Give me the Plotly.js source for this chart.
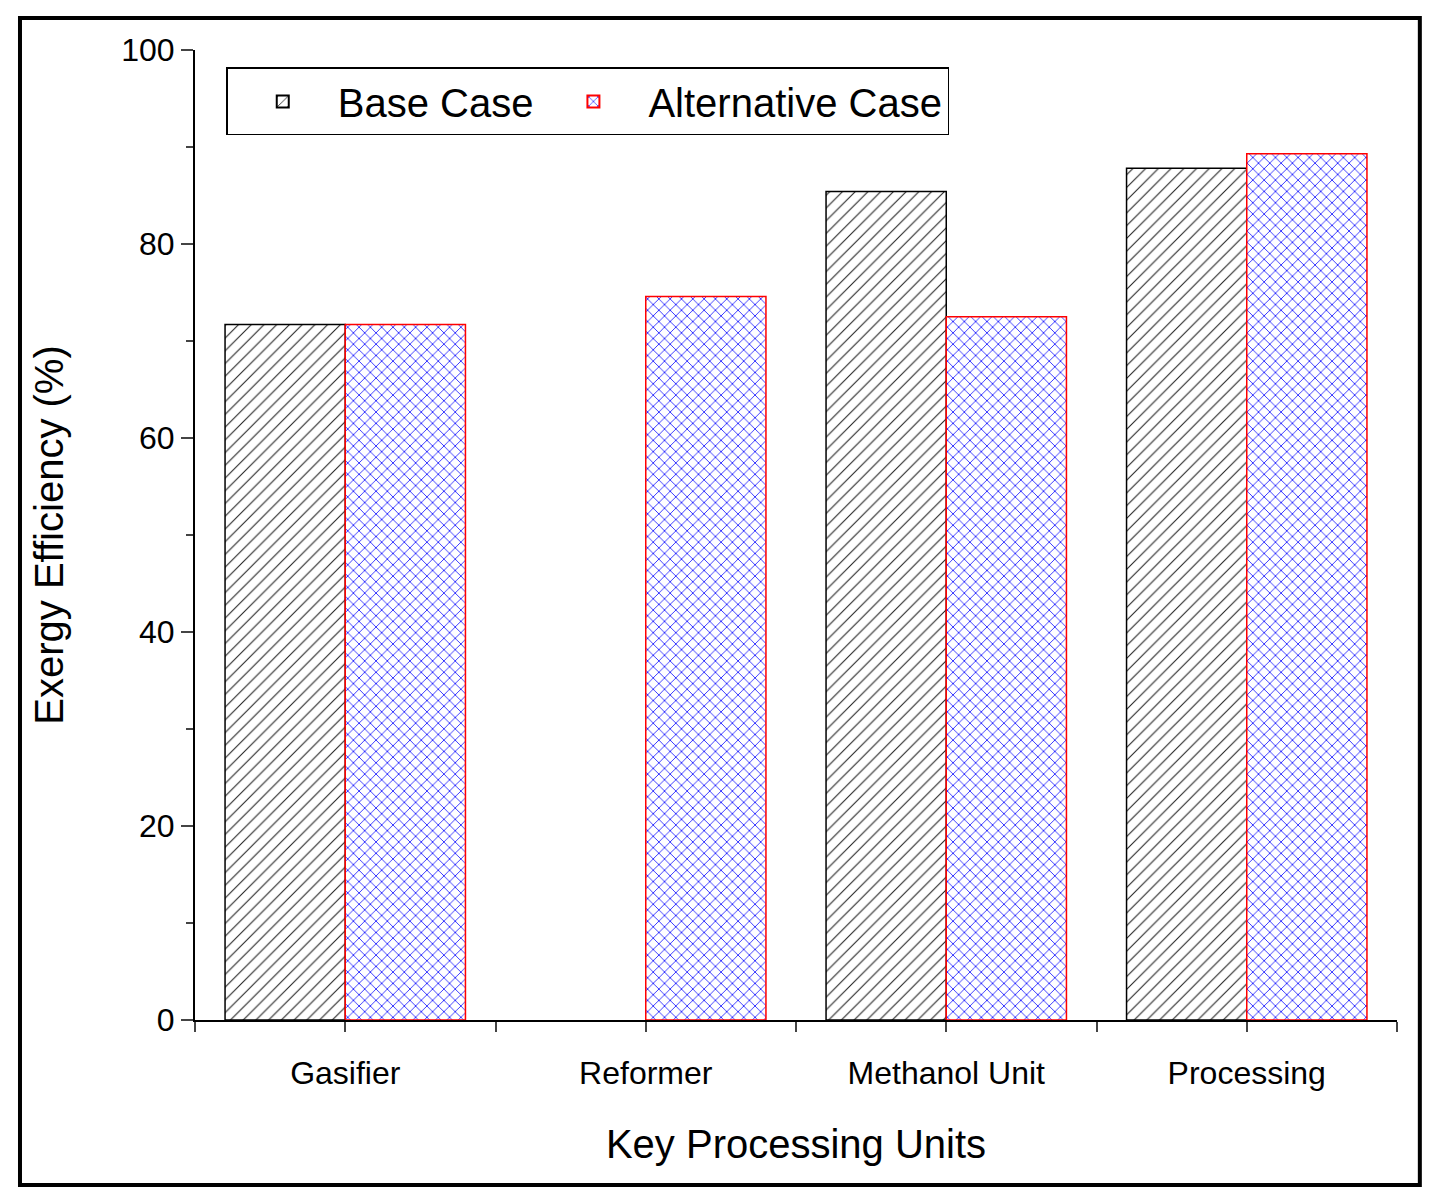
<!DOCTYPE html>
<html>
<head>
<meta charset="utf-8">
<script src="https://cdn.plot.ly/plotly-3.0.1.min.js"></script>
<style>body{margin:0;background:#fff}#chart{width:1438px;height:1203px}</style>
</head>
<body>
<div id="chart"></div>
<script>
var units = ['Gasifier', 'Reformer', 'Methanol Unit', 'Processing'];
var baseCase = [71.7, null, 85.4, 87.8];
var altCase = [71.7, 74.6, 72.5, 89.3];

var pos = units.map(function (u, i) { return i; });

var traceBase = {
    x: pos, y: baseCase, type: 'bar', name: 'Base Case',
    marker: {
        color: 'white',
        line: { color: 'black', width: 1.5 },
        pattern: { shape: '/', fgcolor: '#222', bgcolor: 'white', size: 9, solidity: 0.12 }
    }
};
var traceAlt = {
    x: pos, y: altCase, type: 'bar', name: 'Alternative Case',
    marker: {
        color: 'white',
        line: { color: 'red', width: 1.5 },
        pattern: { shape: 'x', fgcolor: 'blue', bgcolor: 'white', size: 8, solidity: 0.18 }
    }
};

var layout = {
    width: 1438, height: 1203,
    font: { family: 'Liberation Sans, Arial, sans-serif', color: 'black' },
    margin: { l: 195, r: 41, t: 50, b: 183 },
    barmode: 'group', bargap: 0.2, bargroupgap: 0,
    showlegend: true,
    legend: {
        orientation: 'h', x: 0.026, y: 0.982, xanchor: 'left', yanchor: 'top',
        font: { size: 40 }, bordercolor: 'black', borderwidth: 1.5,
        bgcolor: 'white', itemwidth: 100, itemsizing: 'constant'
    },
    xaxis: {
        range: [-0.5, 3.5], tickvals: pos, ticktext: units,
        tickfont: { size: 32 }, ticks: 'outside', ticklen: 10, tickwidth: 2,
        ticklabelstandoff: 14,
        showline: true, linecolor: 'black', linewidth: 2, showgrid: false, zeroline: false,
        minor: { tick0: 0.5, dtick: 1, ticks: 'outside', ticklen: 10, tickwidth: 2, showgrid: false },
        title: { text: 'Key Processing Units', font: { size: 40 }, standoff: 40 }
    },
    yaxis: {
        range: [0, 100], dtick: 20, tickfont: { size: 32 },
        ticks: 'outside', ticklen: 12, tickwidth: 2,
        showline: true, linecolor: 'black', linewidth: 2, showgrid: false, zeroline: false,
        minor: { dtick: 10, ticks: 'outside', ticklen: 7, tickwidth: 2, showgrid: false },
        title: { text: 'Exergy Efficiency (%)', font: { size: 40 }, standoff: 45 }
    },
    shapes: [{
        type: 'rect', xref: 'paper', yref: 'paper',
        x0: -0.1456, x1: 1.019, y0: -0.170, y1: 1.033,
        line: { color: 'black', width: 4 }
    }]
};

Plotly.newPlot('chart', [traceBase, traceAlt], layout, { displayModeBar: false });
</script>
</body>
</html>
